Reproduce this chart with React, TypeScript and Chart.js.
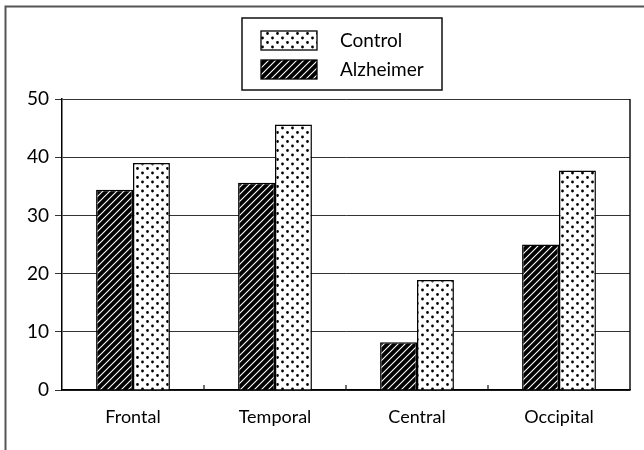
import React, { useEffect, useRef } from "react";
import { Chart, registerables } from "chart.js";

Chart.register(...registerables);

const categories = ["Frontal", "Temporal", "Central", "Occipital"];
const alzheimerValues = [34.4, 35.6, 8.2, 25.0];
const controlValues = [39.0, 45.6, 18.9, 37.7];
const yTicks = [0, 10, 20, 30, 40, 50];
const legendOrder = ["Control", "Alzheimer"];

const FONT = "Lato, 'Open Sans', sans-serif";

function makeHatch(): CanvasPattern | string {
  const c = document.createElement("canvas");
  const s = 7;
  c.width = s;
  c.height = s;
  const g = c.getContext("2d");
  if (!g) return "#000";
  g.fillStyle = "#000";
  g.fillRect(0, 0, s, s);
  g.strokeStyle = "#fff";
  g.lineWidth = 1.1;
  g.beginPath();
  g.moveTo(-1, s + 1);
  g.lineTo(s + 1, -1);
  g.moveTo(-1, 1);
  g.lineTo(1, -1);
  g.moveTo(s - 1, s + 1);
  g.lineTo(s + 1, s - 1);
  g.stroke();
  return g.createPattern(c, "repeat") || "#000";
}

function makeDots(): CanvasPattern | string {
  const c = document.createElement("canvas");
  c.width = 10;
  c.height = 9;
  const g = c.getContext("2d");
  if (!g) return "#fff";
  g.fillStyle = "#fff";
  g.fillRect(0, 0, 10, 9);
  g.fillStyle = "#000";
  g.beginPath();
  g.arc(2.5, 2, 1.4, 0, Math.PI * 2);
  g.closePath();
  g.arc(7.5, 6.5, 1.4, 0, Math.PI * 2);
  g.closePath();
  g.fill();
  return g.createPattern(c, "repeat") || "#fff";
}

export default function App() {
  const ref = useRef<HTMLCanvasElement | null>(null);

  useEffect(() => {
    document.body.style.margin = "0";
    const canvas = ref.current;
    if (!canvas) return;
    const hatch = makeHatch();
    const dots = makeDots();
    const fills: Record<string, CanvasPattern | string> = {
      Control: dots,
      Alzheimer: hatch,
    };

    const decor = {
      id: "decor",
      afterDraw(chart: any) {
        const ctx = chart.ctx as CanvasRenderingContext2D;
        const { right, top, bottom } = chart.chartArea;
        ctx.save();
        ctx.strokeStyle = "#111";
        ctx.lineWidth = 1.5;
        ctx.beginPath();
        ctx.moveTo(right, top);
        ctx.lineTo(right, bottom);
        ctx.stroke();
        const xs = chart.scales.x;
        ctx.lineWidth = 1.2;
        for (let i = 1; i < categories.length; i++) {
          const px = (xs.getPixelForValue(i - 1) + xs.getPixelForValue(i)) / 2;
          ctx.beginPath();
          ctx.moveTo(px, bottom);
          ctx.lineTo(px, bottom - 5);
          ctx.stroke();
        }
        ctx.strokeStyle = "#555";
        ctx.lineWidth = 2;
        ctx.beginPath();
        ctx.moveTo(5.5, 450);
        ctx.lineTo(5.5, 6.5);
        ctx.lineTo(644, 6.5);
        ctx.stroke();
        ctx.strokeStyle = "#111";
        ctx.lineWidth = 1.5;
        ctx.strokeRect(242, 18, 200, 72);
        const rows = [31, 60];
        legendOrder.forEach((name, i) => {
          const y = rows[i];
          ctx.fillStyle = fills[name] as any;
          ctx.fillRect(261, y, 56, 19);
          ctx.strokeStyle = "#000";
          ctx.lineWidth = 1.3;
          ctx.strokeRect(261, y, 56, 19);
          ctx.fillStyle = "#000";
          ctx.font = `19px ${FONT}`;
          ctx.textAlign = "left";
          ctx.textBaseline = "middle";
          ctx.fillText(name, 340, y + 9.5);
        });
        ctx.restore();
      },
    };

    const chart = new Chart(canvas, {
      type: "bar",
      data: {
        labels: categories,
        datasets: [
          {
            label: "Alzheimer",
            data: alzheimerValues,
            backgroundColor: hatch as any,
            borderColor: "#000",
            borderWidth: 1.5,
          },
          {
            label: "Control",
            data: controlValues,
            backgroundColor: dots as any,
            borderColor: "#000",
            borderWidth: 1.5,
          },
        ],
      },
      options: {
        responsive: false,
        animation: false,
        layout: { padding: { top: 99, right: 14, left: 0, bottom: 0 } },
        plugins: {
          legend: { display: false },
          tooltip: { enabled: false },
        },
        datasets: {
          bar: { categoryPercentage: 0.52, barPercentage: 1 },
        },
        scales: {
          x: {
            grid: { display: false, drawTicks: false },
            border: { display: true, color: "#000", width: 1.5 },
            ticks: {
              color: "#000",
              font: { family: FONT, size: 18 },
              padding: 16,
            },
            afterFit: (s: any) => {
              s.height = 60;
            },
          },
          y: {
            min: 0,
            max: 50,
            afterBuildTicks: (s: any) => {
              s.ticks = yTicks.map((v) => ({ value: v }));
            },
            grid: {
              color: "#333",
              lineWidth: 1,
              tickLength: 7,
              drawTicks: true,
            },
            border: { display: true, color: "#000", width: 1.5 },
            ticks: {
              color: "#000",
              font: { family: FONT, size: 19 },
              padding: 6,
            },
            afterFit: (s: any) => {
              s.width = 62;
            },
          },
        },
      },
      plugins: [decor],
    });
    return () => chart.destroy();
  }, []);

  return (
    <div style={{ width: 644, height: 450, background: "#fff" }}>
      <canvas ref={ref} width={644} height={450} />
    </div>
  );
}
